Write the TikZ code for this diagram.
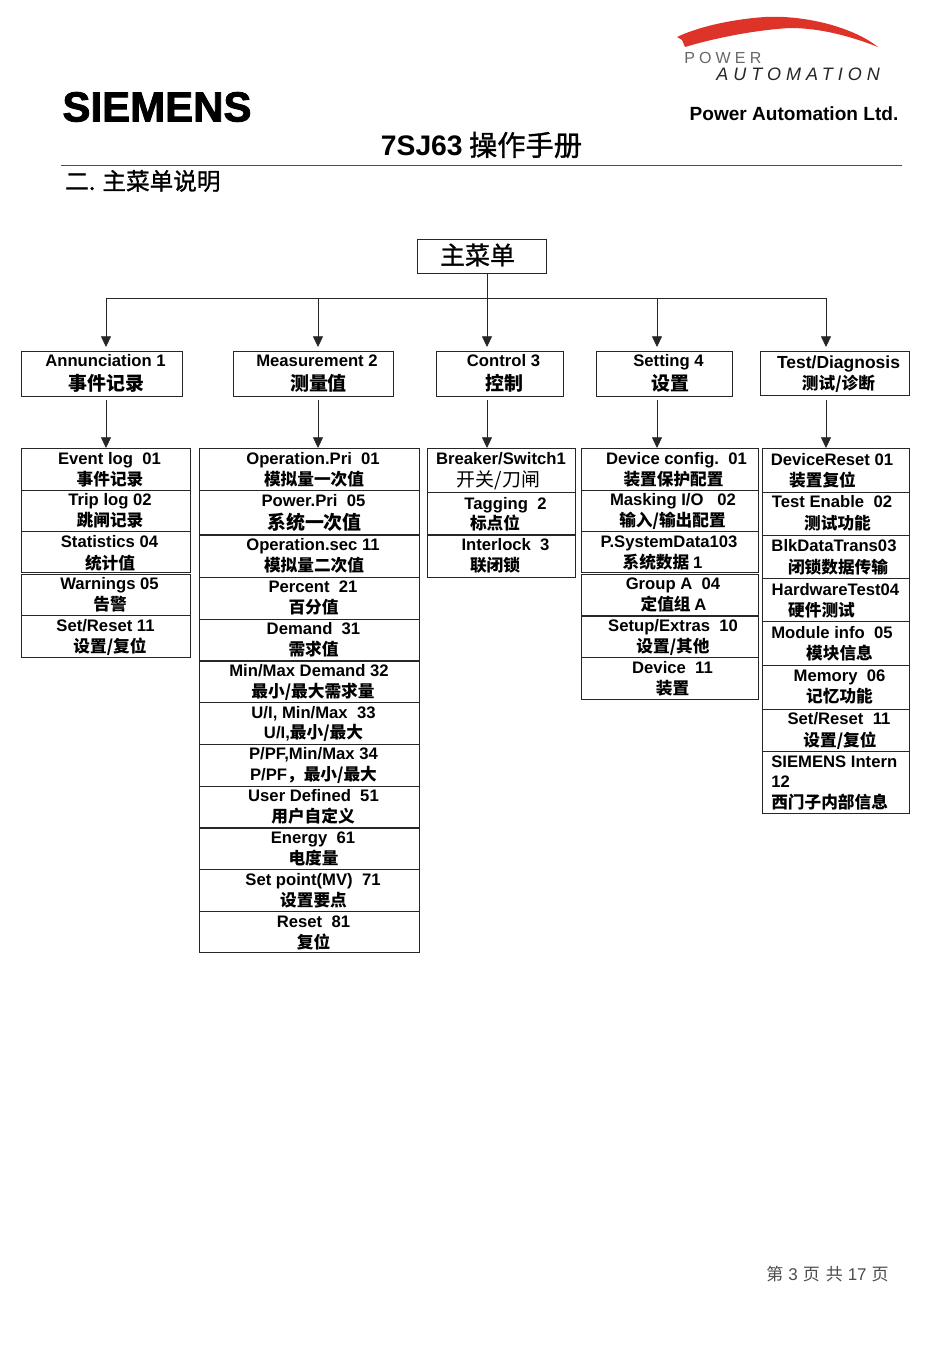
\documentclass[tikz,border=0pt]{standalone}
\usepackage{fontspec}
\setmainfont{Liberation Sans}
\newfontfamily\cjk{Noto Sans CJK SC}
\newfontfamily\cjkmed[FakeBold=1.2]{Noto Sans CJK SC}
\newfontfamily\latn{Liberation Sans}
\newfontfamily\logofont[FakeBold=2]{Liberation Sans Bold}
\usetikzlibrary{arrows.meta}
\definecolor{swoosh}{HTML}{DD3328}
\tikzset{
  sized/.style 2 args={minimum width=#1*0.75pt,minimum height=#2*0.75pt},
  menubox/.style={draw=black!85,line width=0.6pt,inner sep=0pt},
  en/.style={font=\bfseries\fontsize{12.5}{14}\selectfont,inner sep=0pt,text height=9pt,text depth=0pt},
  zh/.style={font=\cjk\bfseries\fontsize{12.5}{14}\selectfont,inner sep=0pt,text height=11pt,text depth=1.5pt},
  zhbig/.style={font=\cjk\bfseries\fontsize{14.2}{16}\selectfont,inner sep=0pt,text height=12.5pt,text depth=1.5pt},
  flow/.style={draw=black!85,line width=0.6pt,-{Triangle[width=7.5pt,length=8pt]}},
}
\newcommand{\lt}[1]{{\latn #1}}
\begin{document}
\begin{tikzpicture}[x=0.75pt,y=-0.75pt]
  \useasboundingbox (0,0) rectangle (950,1345);
  % page header
  \fill[swoosh] (677,37) .. controls (700,26) and (735,19) .. (765,17) .. controls (800,15) and (850,25) .. (878,47) .. controls (850,36) and (820,28) .. (790,28) .. controls (755,30) and (715,38) .. (685,47) -- (682,40) -- cycle;
  \node[font=\fontsize{12}{14}\addfontfeature{LetterSpace=26}\selectfont,text=black!60,anchor=west,inner sep=0pt] (power) at (684,58) {POWER};
  \node[font=\itshape\fontsize{13.5}{15}\addfontfeature{LetterSpace=28}\selectfont,text=black!85,anchor=west,inner sep=0pt] (autom) at (716,74) {AUTOMATION};
  \node[font=\logofont\fontsize{31.5}{34}\selectfont,inner sep=0pt] (siemens) at (157,107) {SIEMENS};
  \node[font=\bfseries\fontsize{14.3}{16}\selectfont,inner sep=0pt] (pal) at (794,114) {Power Automation Ltd.};
  \node[font=\cjkmed\fontsize{21.2}{24}\selectfont,inner sep=0pt] (title) at (481.5,145) {\lt{\bfseries 7SJ63} 操作手册};
  \draw[black!70,line width=0.7pt] (61,165) -- (902,165);
  \node[font=\cjkmed\fontsize{17.7}{20}\selectfont,anchor=west,inner sep=0pt] (sect) at (65,181) {二. 主菜单说明};

  % main menu
  \node[menubox,sized={129}{34}] (root) at (481.5,256) {}; \node[font=\cjkmed\fontsize{18.7}{22}\selectfont,inner sep=0pt] (rootA) at (477.5,255) {主菜单};
  \coordinate (busA) at (106,298); \coordinate (busB) at (318,298); \coordinate (busC) at (487,298);
  \coordinate (busD) at (657,298); \coordinate (busE) at (826,298);
  \coordinate (rootOut) at (487,273);
  \coordinate (tipA) at (106,347); \coordinate (tipB) at (318,347); \coordinate (tipC) at (487,347);
  \coordinate (tipD) at (657,347); \coordinate (tipE) at (826,347);
  \coordinate (outA) at (106,400); \coordinate (outB) at (318,400); \coordinate (outC) at (487,400);
  \coordinate (outD) at (657,400); \coordinate (outE) at (826,400);
  \coordinate (inA) at (106,448); \coordinate (inB) at (318,448); \coordinate (inC) at (487,448);
  \coordinate (inD) at (657,448); \coordinate (inE) at (826,448);

  \node[menubox,sized={161}{45}] (annun) at (101.5,373.5) {}; \node[en] (annunA) at (105.5,360.5) {Annunciation 1}; \node[zhbig] (annunB) at (106.5,383) {事件记录};
  \node[menubox,sized={160}{45}] (meas) at (313,373.5) {}; \node[en] (measA) at (317,360.5) {Measurement 2}; \node[zhbig] (measB) at (318.5,383) {测量值};
  \node[menubox,sized={127}{45}] (ctrl) at (499.5,373.5) {}; \node[en] (ctrlA) at (503.5,360.5) {Control 3}; \node[zhbig] (ctrlB) at (504.5,383) {控制};
  \node[menubox,sized={136}{45}] (sett) at (664,373.5) {}; \node[en] (settA) at (668.5,360.5) {Setting 4}; \node[zhbig] (settB) at (670,383) {设置};
  \node[menubox,sized={149}{44}] (test) at (834.5,373) {}; \node[en,font=\bfseries\fontsize{13.1}{15}\selectfont] (testA) at (838.5,362) {Test/Diagnosis}; \node[zh] (testB) at (838.5,383) {测试/诊断};

  % annunciation list
  \node[menubox,sized={169}{42}] (evtlog) at (105.5,469) {}; \node[en] (evtlogA) at (109.5,458) {Event log\ \ 01}; \node[zh] (evtlogB) at (110,479) {事件记录};
  \node[menubox,sized={169}{41.5}] (triplog) at (105.5,510.7) {}; \node[en] (triplogA) at (110,499) {Trip log 02}; \node[zh] (triplogB) at (110,520) {跳闸记录};
  \node[menubox,sized={169}{41.5}] (stat) at (105.5,552) {}; \node[en] (statA) at (109.5,541) {Statistics 04}; \node[zh] (statB) at (110,563) {统计值};
  \node[menubox,sized={169}{41.5}] (warn) at (105.5,595) {}; \node[en] (warnA) at (109.5,583) {Warnings 05}; \node[zh] (warnB) at (110,604) {告警};
  \node[menubox,sized={169}{41.5}] (setrst) at (105.5,636.5) {}; \node[en] (setrstA) at (105.5,625) {Set/Reset 11}; \node[zh] (setrstB) at (110,646) {设置/复位};

  % measurement list
  \node[menubox,sized={220}{42}] (oppri) at (309,469) {}; \node[en] (opprA) at (313,458) {Operation.Pri\ \ 01}; \node[zh] (opprB) at (314,479) {模拟量一次值};
  \node[menubox,sized={220}{44}] (pwpri) at (309,512) {}; \node[en] (pwprA) at (313.5,500) {Power.Pri\ \ 05}; \node[zhbig] (pwprB) at (314.5,522) {系统一次值};
  \node[menubox,sized={220}{42}] (opsec) at (309,556.3) {}; \node[en] (opseA) at (313,544) {Operation.sec 11}; \node[zh] (opseB) at (314,565) {模拟量二次值};
  \node[menubox,sized={220}{42}] (perc) at (309,598) {}; \node[en] (percA) at (313,586) {Percent\ \ 21}; \node[zh] (percB) at (313.5,607) {百分值};
  \node[menubox,sized={220}{42}] (dem) at (309,640) {}; \node[en] (demA) at (313.5,628) {Demand\ \ 31}; \node[zh] (demB) at (313.5,649) {需求值};
  \node[menubox,sized={220}{41.5}] (mmdem) at (309,681.5) {}; \node[en] (mmdemA) at (309,670) {Min/Max Demand 32}; \node[zh] (mmdemB) at (313,691) {最小/最大需求量};
  \node[menubox,sized={220}{42}] (uimm) at (309,723.3) {}; \node[en] (uimmA) at (313.5,712) {U/I, Min/Max\ \ 33}; \node[zh] (uimmB) at (313.5,732) {\lt{U/I,}最小/最大};
  \node[menubox,sized={220}{42}] (pfmm) at (309,765.3) {}; \node[en] (pfmmA) at (313.5,753) {P/PF,Min/Max 34}; \node[zh] (pfmmB) at (313.5,774) {\lt{P/PF}，最小/最大};
  \node[menubox,sized={220}{41.7}] (user) at (309,807) {}; \node[en] (userA) at (313.5,795) {User Defined\ \ 51}; \node[zh] (userB) at (313,816) {用户自定义};
  \node[menubox,sized={220}{41.7}] (energy) at (309,849) {}; \node[en] (energyA) at (313,837) {Energy\ \ 61}; \node[zh] (energyB) at (313.5,858) {电度量};
  \node[menubox,sized={220}{42}] (setpt) at (309,890.7) {}; \node[en] (setptA) at (313,879) {Set point(MV)\ \ 71}; \node[zh] (setptB) at (313.5,900) {设置要点};
  \node[menubox,sized={220}{41}] (rst) at (309,932.2) {}; \node[en] (rstA) at (313.5,921) {Reset\ \ 81}; \node[zh] (rstB) at (313.5,942) {复位};

  % control list
  \node[menubox,sized={148}{44.5}] (brk) at (501,470.5) {}; \node[en] (brkA) at (501,458) {Breaker/Switch1}; \node[font=\cjk\fontsize{14.2}{16}\selectfont,inner sep=0pt] (brkB) at (498.5,480) {开关/刀闸};
  \node[menubox,sized={148}{41.5}] (tag) at (501,513.3) {}; \node[en] (tagA) at (505.5,503) {Tagging\ \ 2}; \node[zh] (tagB) at (495,523) {标点位};
  \node[menubox,sized={148}{42}] (lock) at (501,556.3) {}; \node[en] (lockA) at (505.5,544) {Interlock\ \ 3}; \node[zh] (lockB) at (495,565) {联闭锁};

  % setting list
  \node[menubox,sized={177}{42}] (devcfg) at (669.5,469) {}; \node[en] (devcfgA) at (676.5,458) {Device config.\ \ 01}; \node[zh] (devcfgB) at (673.5,479) {装置保护配置};
  \node[menubox,sized={177}{41.5}] (mask) at (669.5,510.7) {}; \node[en] (maskA) at (673,499) {Masking I/O\ \ \ 02}; \node[zh] (maskB) at (672.5,520) {输入/输出配置};
  \node[menubox,sized={177}{41.5}] (psys) at (669.5,552) {}; \node[en] (psysA) at (669,541) {P.SystemData103}; \node[zh] (psysB) at (662.5,562) {系统数据 \lt{1}};
  \node[menubox,sized={177}{41.5}] (grpa) at (669.5,595) {}; \node[en] (grpaA) at (673,583) {Group A\ \ 04}; \node[zh] (grpaB) at (673.5,604) {定值组 \lt{A}};
  \node[menubox,sized={177}{41.5}] (extra) at (669.5,636.7) {}; \node[en] (extraA) at (673,625) {Setup/Extras\ \ 10}; \node[zh] (extraB) at (673,646) {设置/其他};
  \node[menubox,sized={177}{41.5}] (dev) at (669.5,678.2) {}; \node[en] (devA) at (672.5,667) {Device\ \ 11}; \node[zh] (devB) at (672.5,688) {装置};

  % test list
  \node[menubox,sized={147}{44}] (devrst) at (835.5,470) {}; \node[en] (devrstA) at (832,459) {DeviceReset 01}; \node[zh] (devrstB) at (822.5,480) {装置复位};
  \node[menubox,sized={147}{43}] (enab) at (835.5,513.5) {}; \node[en] (enabA) at (832,501) {Test Enable\ \ 02}; \node[zh] (enabB) at (837.5,523) {测试功能};
  \node[menubox,sized={147}{43}] (blk) at (835.5,556.5) {}; \node[en] (blkA) at (834,545) {BlkDataTrans03}; \node[zh] (blkB) at (838,567) {闭锁数据传输};
  \node[menubox,sized={147}{43.5}] (hw) at (835.5,599.8) {}; \node[en] (hwA) at (835.5,589) {HardwareTest04}; \node[zh] (hwB) at (821.5,610) {硬件测试};
  \node[menubox,sized={147}{43.5}] (modinf) at (835.5,643.3) {}; \node[en] (modinfA) at (832,632) {Module info\ \ 05}; \node[zh] (modinfB) at (839.5,653) {模块信息};
  \node[menubox,sized={147}{44}] (mem) at (835.5,687) {}; \node[en] (memA) at (839.5,675) {Memory\ \ 06}; \node[zh] (memB) at (839.5,696) {记忆功能};
  \node[menubox,sized={147}{42.5}] (setrsta) at (835.5,730.5) {}; \node[en] (setrstaA) at (839,718) {Set/Reset\ \ 11}; \node[zh] (setrstaB) at (840,740) {设置/复位};
  \node[menubox,sized={147}{61.5}] (intern) at (835.5,782.5) {}; \node[en,anchor=west] (internA) at (771,761) {SIEMENS Intern}; \node[en,anchor=west] (internC) at (771,781) {12}; \node[zh,anchor=west] (internB) at (771,802) {西门子内部信息};

  % connectors
  \draw[draw=black!85,line width=0.6pt] (busA) -- (busE);
  \draw[flow] (rootOut) to (tipC);
  \draw[flow] (busA) to (tipA); \draw[flow] (busB) to (tipB); \draw[flow] (busD) to (tipD); \draw[flow] (busE) to (tipE);
  \draw[flow] (outA) to (inA); \draw[flow] (outB) to (inB); \draw[flow] (outC) to (inC); \draw[flow] (outD) to (inD); \draw[flow] (outE) to (inE);

  % footer
  \node[font=\cjk\fontsize{12.75}{15}\selectfont,text=black!70,inner sep=0pt] (pageno) at (827.5,1274) {第\hspace{3.75pt}\lt{3}\hspace{3.75pt}页\hspace{4.5pt}共\hspace{3.75pt}\lt{17}\hspace{3.75pt}页};
\end{tikzpicture}
\end{document}
